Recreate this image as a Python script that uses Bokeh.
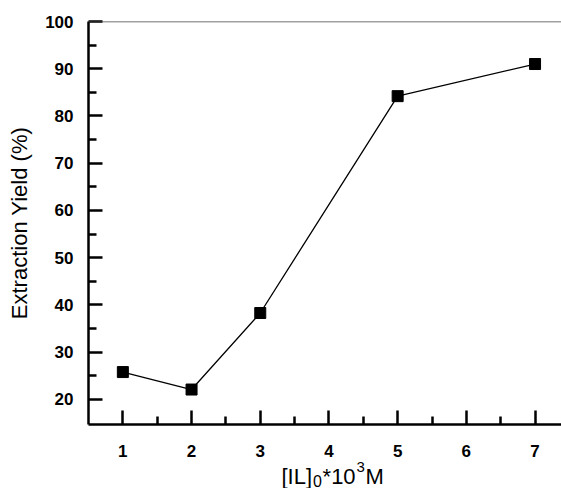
from bokeh.plotting import figure
from bokeh.layouts import column
from bokeh.models import Range1d, FixedTicker, Span, Label
from bokeh.core.properties import value
from bokeh.embed import file_html
from bokeh.resources import INLINE

# Ionic liquid concentration (x 10^-3 M) and extraction yield (%)
il_conc = [1, 2, 3, 5, 7]
yield_pct = [25.8, 22.1, 38.3, 84.2, 91.0]

x_ticks = [1, 2, 3, 4, 5, 6, 7]
x_minor = [1.5, 2.5, 3.5, 4.5, 5.5, 6.5]
x_tick_labels = [str(t) for t in x_ticks]
y_ticks = [20, 30, 40, 50, 60, 70, 80, 90, 100]
y_minor = [25, 35, 45, 55, 65, 75, 85, 95]

FONT = "Liberation Sans"
W = 561
TOP_H = 434      # main plot canvas height
BOTTOM_H = 54    # strip holding x tick labels and x title

# ---- main plot -------------------------------------------------------------
p = figure(
    width=W, height=TOP_H,
    output_backend="svg", toolbar_location=None,
    x_range=Range1d(0.5, 7.385), y_range=Range1d(14.7, 100),
    min_border_left=88, min_border_right=0, min_border_top=21, min_border_bottom=10,
)
p.outline_line_color = None
p.xgrid.grid_line_color = None
p.ygrid.grid_line_color = None
p.background_fill_color = "white"
p.border_fill_color = "white"

for ax in (p.xaxis[0], p.yaxis[0]):
    ax.axis_line_width = 2.5
    ax.axis_line_color = "black"
    ax.major_tick_line_width = 2.5
    ax.minor_tick_line_width = 2.5
    ax.major_tick_line_color = "black"
    ax.minor_tick_line_color = "black"
    ax.major_tick_in = 14
    ax.major_tick_out = 0
    ax.minor_tick_in = 8
    ax.minor_tick_out = 0
    ax.major_label_text_font = FONT
    ax.major_label_text_font_style = "bold"
    ax.major_label_text_font_size = "17px"
    ax.major_label_text_color = "black"

p.xaxis.ticker = FixedTicker(ticks=x_ticks, minor_ticks=x_minor)
p.yaxis.ticker = FixedTicker(ticks=y_ticks, minor_ticks=y_minor)

# x tick labels are drawn in the strip below
p.xaxis.major_label_text_font_size = "0px"
p.xaxis.major_label_text_color = None
p.xaxis.major_label_standoff = 0

p.yaxis.major_label_standoff = 15
p.yaxis.axis_label = "Extraction Yield (%)"
p.yaxis.axis_label_text_font = FONT
p.yaxis.axis_label_text_font_style = "normal"
p.yaxis.axis_label_text_font_size = "22px"
p.yaxis.axis_label_text_color = "black"
p.yaxis.axis_label_standoff = 10

# thin top border line
p.add_layout(Span(location=100, dimension="width", line_color="#444444", line_width=1.3))

p.line(il_conc, yield_pct, line_color="black", line_width=1.3)
p.scatter(il_conc, yield_pct, marker="square", size=11, fill_color="black", line_color="black")

# ---- strip below: x tick labels and x-axis title --------------------------
strip = figure(
    width=W, height=BOTTOM_H,
    output_backend="svg", toolbar_location=None,
    x_range=p.x_range, y_range=Range1d(0, BOTTOM_H),
    x_axis_location=None, y_axis_location=None,
    min_border_left=88, min_border_right=0, min_border_top=0, min_border_bottom=0,
)
strip.outline_line_color = None
strip.background_fill_color = "white"
strip.border_fill_color = "white"
strip.grid.visible = False

strip.text(
    x=x_ticks, y=38, text=x_tick_labels,
    text_font=value(FONT), text_font_style="bold", text_font_size="17px",
    text_color="black", text_align="center", text_baseline="alphabetic",
)

# title "[IL]0*10^3M" with subscript 0 and superscript 3
# (x offsets from the strip frame's left edge, y = baseline above strip bottom)
title_parts = [
    ("[IL]", 22, 12),
    ("0", 16, 8),
    ("*10", 22, 12),
    ("3", 15, 22),
    ("M", 22, 12),
]
char_w = {"[": 0.278, "I": 0.278, "L": 0.556, "]": 0.278, "0": 0.556,
          "*": 0.389, "1": 0.556, "3": 0.556, "M": 0.833}
sx = 281.0 - 88.0
for txt, size, base in title_parts:
    strip.add_layout(Label(
        x=sx, y=base, x_units="screen", y_units="screen",
        text=txt, text_font=FONT, text_font_size=f"{size}px",
        text_color="black", text_baseline="alphabetic", text_align="left",
    ))
    sx += sum(char_w[c] for c in txt) * size + 0.8

layout = column(p, strip, spacing=0)
open("out.html", "w").write(file_html(layout, INLINE))
